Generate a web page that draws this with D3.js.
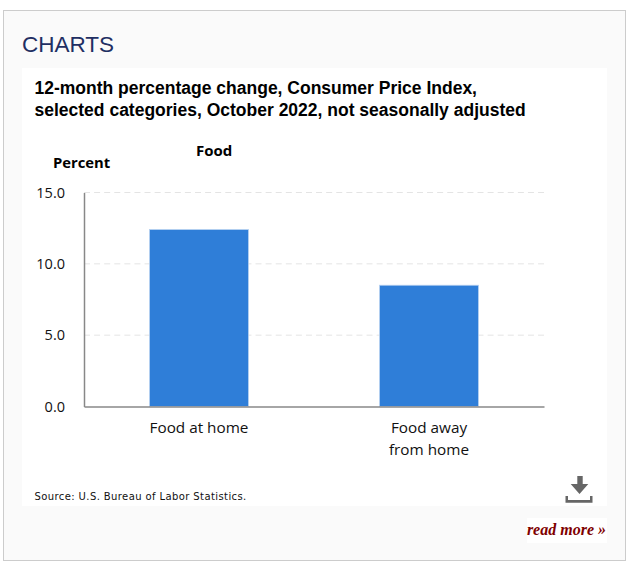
<!DOCTYPE html>
<html>
<head>
<meta charset="utf-8">
<script src="https://cdn.jsdelivr.net/npm/d3@7"></script>
<style>
html, body { margin: 0; padding: 0; background: #fff; overflow: hidden; }
svg { display: block; }
</style>
</head>
<body>
<svg id="chart" width="631" height="566"></svg>
<script>
var categories = ["Food at home", "Food away|from home"];
var values = [12.4, 8.5];
var yTicks = [0, 5, 10, 15];

var svg = d3.select("#chart"),
    margin = { top: 192.5, left: 84, right: 87, bottom: 159.5 },
    width = +svg.attr("width") - margin.left - margin.right,
    height = +svg.attr("height") - margin.top - margin.bottom;

// page furniture around the chart
svg.append("rect").attr("x", 3.5).attr("y", 10.5).attr("width", 622).attr("height", 550)
    .attr("fill", "#fafafa").attr("stroke", "#cccccc");
svg.append("rect").attr("x", 22).attr("y", 68).attr("width", 585).attr("height", 438).attr("fill", "#fff");
svg.append("rect").attr("x", 527).attr("y", 518).attr("width", 80).attr("height", 25).attr("fill", "#fff");

svg.append("text").attr("x", 22).attr("y", 51.5)
    .attr("font-family", "Liberation Sans").attr("font-size", 22.5).attr("fill", "#1f2f63")
    .text("CHARTS");

var titleLines = ["12-month percentage change, Consumer Price Index,", "selected categories, October 2022, not seasonally adjusted"];
svg.selectAll("text.title").data(titleLines).enter().append("text")
    .attr("class", "title")
    .attr("x", 34.5)
    .attr("y", function(d, i) { return 94 + i * 22; })
    .attr("font-family", "Liberation Sans").attr("font-weight", "bold").attr("font-size", 17.5).attr("fill", "#000")
    .text(function(d) { return d; });

var x = d3.scaleBand().domain(categories).range([0, width]).paddingInner(0.57).paddingOuter(0.285),
    y = d3.scaleLinear().domain([0, 15]).range([height, 0]);

var g = svg.append("g").attr("transform", "translate(" + margin.left + "," + margin.top + ")");

// gridlines
g.selectAll("line.grid").data(yTicks.slice(1)).enter().append("line")
    .attr("class", "grid")
    .attr("x1", 0).attr("x2", width)
    .attr("y1", function(d) { return y(d); })
    .attr("y2", function(d) { return y(d); })
    .attr("stroke", "#e4e4e4").attr("stroke-dasharray", "6 4.09");

g.selectAll("rect.bar").data(values).enter().append("rect")
    .attr("class", "bar")
    .attr("x", function(d, i) { return x(categories[i]); })
    .attr("y", function(d) { return y(d); })
    .attr("width", x.bandwidth())
    .attr("height", function(d) { return height - y(d); })
    .attr("fill", "#2f7ed8")
    .attr("stroke", "#b5d0f0").attr("stroke-width", 0.8);

// y axis
var yAxis = g.append("g").call(d3.axisLeft(y).tickValues(yTicks).tickSize(0).tickPadding(19).tickFormat(d3.format(".1f")));
yAxis.select(".domain").attr("stroke", "#888888").attr("stroke-width", 1.5);
yAxis.selectAll("text").attr("font-family", "Open Sans").attr("font-size", 14.5).attr("fill", "#111");

// x axis
var xAxis = g.append("g").attr("transform", "translate(0," + height + ")")
    .call(d3.axisBottom(x).tickSize(0).tickFormat(""));
xAxis.select(".domain").attr("stroke", "#888888").attr("stroke-width", 1.5);
xAxis.selectAll(".tick text").each(function(d) {
    var t = d3.select(this).attr("font-family", "Open Sans").attr("font-size", 15.3).attr("fill", "#111")
        .attr("y", 0).attr("dy", null);
    t.selectAll("tspan").data(d.split("|")).enter().append("tspan")
        .attr("x", 0)
        .attr("y", function(s, i) { return 26 + i * 22; })
        .text(function(s) { return s; });
});

svg.append("text").attr("x", 53).attr("y", 168)
    .attr("font-family", "Open Sans").attr("font-weight", "bold").attr("font-size", 14.8).attr("fill", "#000")
    .text("Percent");
svg.append("text").attr("x", 196).attr("y", 156)
    .attr("font-family", "Open Sans").attr("font-weight", "bold").attr("font-size", 15).attr("fill", "#000")
    .text("Food");

svg.append("text").attr("x", 34.5).attr("y", 500)
    .attr("font-family", "DejaVu Sans").attr("font-size", 10).attr("letter-spacing", 0.4).attr("fill", "#111")
    .text("Source: U.S. Bureau of Labor Statistics.");

// download icon
var icon = svg.append("g").attr("fill", "#666666");
icon.append("path").attr("d", "M577.3 476h5.4v8h5.6l-8.8 10l-8.8-10h6.6z");
icon.append("path").attr("d", "M565.5 496h2.5v4h22v-4h2.5v6.7h-27z");

svg.append("text").attr("x", 606).attr("y", 535).attr("text-anchor", "end")
    .attr("font-family", "Liberation Serif").attr("font-style", "italic").attr("font-weight", "bold")
    .attr("font-size", 16).attr("fill", "#800000")
    .text("read more »");
</script>
</body>
</html>
